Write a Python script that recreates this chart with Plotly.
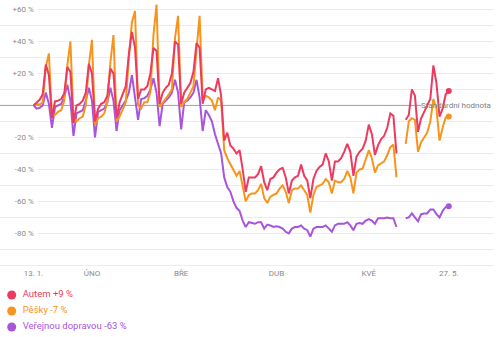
import plotly.graph_objects as go
import pandas as pd

# ---- data -------------------------------------------------------------
dates = pd.date_range("2020-01-13", "2020-05-27", freq="D")

autem = [
    0, 1.5, 3.5, 7, 25.5, 19, -8,
    2.5, 3, 4, 7.5, 24, 21, -11,
    0, 1, 3, 8, 26, 20, -10,
    -2, 1, 2, 6, 23, 20, -8,
    2, 7, 12, 32, 46, 36, 4,
    10, 10, 12, 20, 36, 34, 1,
    8, 11, 13, 20, 40, 38, 1,
    8, 11, 14, 21, 39, 36, 1,
    10, 11, 10, 9, 17, 6, -22,
    -17, -25, -27, -30, -28, -40, -54,
    -45, -45, -45, -43, -38, -48, -53,
    -46, -45, -42, -40, -39, -45, -55,
    -47, -45, -44, -37, -44, -47, -58,
    -46, -41, -38.5, -37, -30, -35, -47,
    -35, -35, -33, -29, -24, -29, -44,
    -32, -29, -27, -22, -12, -18, -31,
    -25, -21, -19, -14, -5, -6.5, -30,
    None, None, -9, -6, 10, 6, -16.5,
    -8, -4, 0, 4, 25, 14, -7,
    -2, 7, 9,
]

pesky = [
    0, 1, 0.5, 2, 24, 32.5, -6,
    -6, -4, -3, 3, 25, 40, -8,
    -10, -8, -7, 0, 25, 41, -12,
    -8, -7, -5, 2, 27, 44, -10,
    -7, -3, 2, 30, 52, 59, 0,
    -2, 2, 2, 8, 44, 63, -1,
    1.5, 4, 7, 10, 42, 56, -1,
    2, 4, 8, 12, 35, 56, 3,
    6, 5, 3, -3, 5, 3, -28,
    -33, -37, -41, -44, -41, -50, -60,
    -56, -55, -55, -53, -49, -58, -61,
    -57, -56, -55, -52, -50, -54, -61,
    -53, -52, -52, -50, -53, -56, -67,
    -56, -51, -50, -49, -46, -48, -55,
    -47, -48, -48, -46, -41, -45, -55,
    -42, -40, -39.5, -33, -28, -33, -42,
    -37.5, -36, -35, -31, -26, -24.5, -45,
    None, None, -24, -10, -8, -9, -29,
    -23, -20, -17, -10, 4, -2, -22,
    -14, -7.5, -7,
]

verejna = [
    0, -2, -1.5, 0, 8, 1, -14,
    -1, 0, 1, 5, 13, 3, -19,
    -5, -4, -3, 3, 11, 3, -20,
    -4, -3, -2, 2, 11, 3, -16,
    -3, 0, 3, 8, 19, 5, -9,
    4, 4.5, 6, 10, 17, 8, -13,
    1, 3, 5, 8, 16, 8, -15,
    2, 3, 5, 8, 16, 5, -16,
    -3, -6, -10, -18, -24, -30, -45,
    -51, -54, -60, -64, -66, -72, -76,
    -73, -73.5, -74, -73, -73, -77, -74.5,
    -75, -76, -75.5, -76, -77, -79, -80,
    -77, -76, -76, -75, -77, -78, -82,
    -77, -76, -76, -76, -75, -77, -79,
    -75, -74, -74, -74, -73, -75, -78,
    -74, -73.5, -74, -72, -71, -72, -74,
    -70.5, -70.5, -70.5, -70, -70.5, -70.5, -76,
    None, None, -70.5, -70, -67.5, -70, -72.5,
    -68, -67.5, -67.5, -65, -65, -68, -70,
    -66, -63.5, -63,
]

series_names = ["Autem +9 %", "Pěšky -7 %", "Veřejnou dopravou -63 %"]
series_colors = ["#ee3a5e", "#f7941d", "#a855dc"]

x_tick_vals = ["2020-01-13", "2020-02-01", "2020-03-01", "2020-04-01", "2020-05-01", "2020-05-27"]
x_tick_text = ["13. 1.", "ÚNO", "BŘE", "DUB", "KVĚ", "27. 5."]
y_tick_vals = [60, 40, 20, -20, -40, -60, -80]
y_tick_text = ["+60 %", "+40 %", "+20 %", "-20 %", "-40 %", "-60 %", "-80 %"]
y_grid_vals = [60, 50, 40, 30, 20, 10, -10, -20, -30, -40, -50, -60, -70, -80, -90, -100]
baseline_value = 0
baseline_label = "Standardní hodnota"

# ---- figure -----------------------------------------------------------
FONT = "Roboto, 'Open Sans', sans-serif"
GREY = "#8a8a8a"

fig = go.Figure()
all_series = [autem, pesky, verejna]

# draw purple first, red on top
for idx in [2, 1, 0]:
    vals = all_series[idx]
    fig.add_trace(go.Scatter(
        x=dates, y=vals, mode="lines",
        line=dict(color=series_colors[idx], width=2),
        showlegend=False, hoverinfo="skip", connectgaps=False,
    ))
    fig.add_trace(go.Scatter(
        x=[dates[-1]], y=[vals[-1]], mode="markers",
        marker=dict(color=series_colors[idx], size=6),
        showlegend=False, hoverinfo="skip",
    ))

# legend drawn in its own small subplot below the chart
fig.add_trace(go.Scatter(
    x=[0] * len(series_names), y=list(range(len(series_names)))[::-1],
    mode="markers", marker=dict(color=series_colors, size=9),
    xaxis="x2", yaxis="y2", showlegend=False, hoverinfo="skip",
))
fig.add_trace(go.Scatter(
    x=[11] * len(series_names), y=list(range(len(series_names)))[::-1],
    mode="text", text=series_names, textposition="middle right",
    textfont=dict(color=series_colors, size=9.5, family=FONT),
    xaxis="x2", yaxis="y2", showlegend=False, hoverinfo="skip",
))

annotations = []
for v, t in zip(y_tick_vals, y_tick_text):
    annotations.append(dict(
        x=0, xref="paper", xanchor="left", y=v, yref="y", yanchor="middle",
        text=t, showarrow=False, width=30, align="right", borderpad=3,
        bgcolor="white", font=dict(size=8, color=GREY, family=FONT),
    ))
annotations.append(dict(
    x=1, xref="paper", xanchor="right", y=baseline_value, yref="y", yanchor="middle",
    text=baseline_label, showarrow=False,
    font=dict(size=8, color="#7d7d7d", family=FONT),
))

# baseline (standard value) line, stopping where its label begins
shapes = [dict(
    type="line", xref="paper", yref="y", x0=0, x1=0.855,
    y0=baseline_value, y1=baseline_value,
    line=dict(color="#a0a0a0", width=1), layer="below",
)]

PLOT_H = 267
H = 337
fig.update_layout(
    width=500, height=337,
    margin=dict(l=0, r=7, t=0, b=0),
    paper_bgcolor="white", plot_bgcolor="white",
    font=dict(family=FONT, size=8, color=GREY),
    showlegend=False,
    xaxis=dict(
        type="date",
        range=["2020-01-02 02:40", "2020-06-10 09:07"],
        tickvals=x_tick_vals, ticktext=x_tick_text,
        showgrid=False, zeroline=False, showline=False, ticks="",
        tickfont=dict(size=8, color=GREY, family=FONT),
        domain=[0, 1], anchor="y",
    ),
    yaxis=dict(
        range=[-101, 65.9], tickvals=y_grid_vals,
        showgrid=True, gridcolor="#ececec", gridwidth=1,
        zeroline=False,
        showticklabels=False, ticks="", showline=False,
        domain=[(H - PLOT_H) / H, 1], anchor="x",
    ),
    xaxis2=dict(domain=[0, 1], range=[-11.7, 481.3], visible=False, anchor="y2"),
    yaxis2=dict(domain=[0, (H - PLOT_H) / H], range=[-0.625, 3.75], visible=False, anchor="x2"),
    annotations=annotations,
    shapes=shapes,
)

fig.write_html("out.html")
